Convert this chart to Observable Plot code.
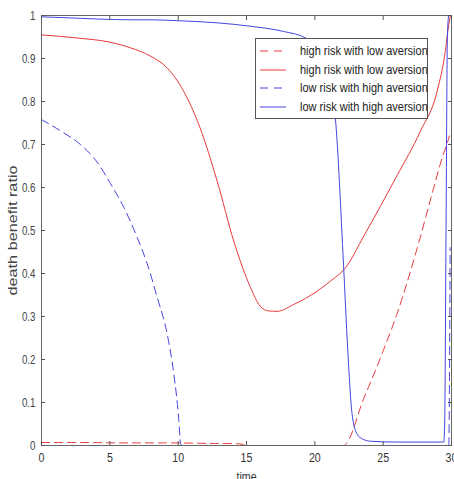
<!DOCTYPE html>
<html><head><meta charset="utf-8">
<script src="https://cdn.jsdelivr.net/npm/d3@7"></script>
<script src="https://cdn.jsdelivr.net/npm/@observablehq/plot@0.6"></script>
<style>
body{margin:0;background:#fff;}
#chart{position:relative;width:454px;height:479px;overflow:hidden;background:#fff}
#legend{position:absolute;left:255px;top:38px;width:173px;height:81px;border:1px solid #555;background:#fff;box-sizing:border-box;padding-top:3px}
#legend .row{height:18.6px;display:flex;align-items:center;font-family:"Liberation Sans",Arial,sans-serif;font-size:12.5px;color:#222;white-space:nowrap}
#legend .row span{display:inline-block;transform:scaleX(0.88);transform-origin:left center}
#legend svg{margin-left:4px;margin-right:14px;flex:none}
</style></head><body><div id="chart"></div>
<script>
// time axis ticks and ratio ticks
const xTicks = [0, 5, 10, 15, 20, 25, 30];
const yTicks = [0, 0.1, 0.2, 0.3, 0.4, 0.5, 0.6, 0.7, 0.8, 0.9, 1];
const yTickLabels = ["0", "0.1", "0.2", "0.3", "0.4", "0.5", "0.6", "0.7", "0.8", "0.9", "1"];

const legendNames = ["high risk with low aversion", "high risk with low aversion", "low risk with high aversion", "low risk with high aversion"];

// high risk with low aversion (dashed red)
const hrDashT = [0, 3, 6, 9, 12, 14.5, 15, 22.1, 23.6, 25, 26, 27.5, 28.5, 29.4, 29.7, 29.85];
const hrDashV = [0.007, 0.007, 0.006, 0.006, 0.005, 0.004, 0, 0, 0.111, 0.22, 0.305, 0.46, 0.576, 0.677, 0.704, 0.72];

// high risk with low aversion (solid red)
const hrSolidT = [0, 2.5, 5, 6.5, 8, 9.2, 10.4, 11.6, 12.85, 14.07, 15.3, 16, 16.6, 17.24, 18.46, 20.17, 21.17, 22.24, 23.58, 25, 26.02, 27.73, 28.95, 29.55, 29.8, 29.92];
const hrSolidV = [0.955, 0.948, 0.938, 0.925, 0.905, 0.878, 0.824, 0.739, 0.615, 0.475, 0.367, 0.324, 0.313, 0.312, 0.328, 0.359, 0.383, 0.413, 0.487, 0.568, 0.628, 0.731, 0.824, 0.917, 0.979, 1.0];

// low risk with high aversion (dashed blue)
const lrDashT = [0, 1.63, 2.85, 4.07, 5.05, 6.02, 7.0, 7.73, 8.46, 9.19, 9.68, 10.05, 10.17, 10.3, 29.8, 29.9];
const lrDashV = [0.758, 0.727, 0.70, 0.659, 0.609, 0.554, 0.484, 0.423, 0.345, 0.26, 0.167, 0.058, 0.005, 0, 0, 0.46];

// low risk with high aversion (solid blue)
const lrSolidT = [0, 1.6, 6.7, 8, 9.9, 12.85, 15.3, 17.7, 19.3, 20.3, 20.9, 21.2, 21.5, 22.1, 22.4, 22.73, 23.1, 23.5, 24.07, 26, 29.43, 29.5, 29.6, 29.7, 29.8, 30];
const lrSolidV = [0.997, 0.995, 0.99, 0.99, 0.988, 0.983, 0.975, 0.963, 0.948, 0.925, 0.88, 0.83, 0.762, 0.42, 0.227, 0.072, 0.026, 0.015, 0.010, 0.008, 0.008, 0.05, 0.5, 0.95, 1.0, 1.0];

const RED = "#e8383c", BLUE = "#4444e0";
const series = [
  {name: legendNames[0], t: hrDashT, v: hrDashV, color: RED, dash: "8,5"},
  {name: legendNames[1], t: hrSolidT, v: hrSolidV, color: RED, dash: null},
  {name: legendNames[2], t: lrDashT, v: lrDashV, color: BLUE, dash: "8,5"},
  {name: legendNames[3], t: lrSolidT, v: lrSolidV, color: BLUE, dash: null}
];

const font = '"Liberation Sans", Arial, sans-serif';
const svg = Plot.plot({
  width: 454, height: 479,
  marginLeft: 41, marginRight: 3, marginTop: 15, marginBottom: 34,
  style: {fontFamily: font, fontSize: "12.5px", color: "#333", background: "#fff", overflow: "visible"},
  x: {domain: [0, 30]},
  y: {domain: [0, 1]},
  marks: [
    ...series.map(s => Plot.line(s.t.map((t, i) => ({t, v: s.v[i]})), {
      x: "t", y: "v", stroke: s.color, strokeWidth: 1, strokeDasharray: s.dash, curve: "monotone-x"
    })),
    Plot.frame({stroke: "#666", strokeWidth: 1}),
    Plot.axisX({anchor: "bottom", ticks: xTicks, tickSize: -4, tickFormat: () => "", label: null, stroke: "#555"}),
    Plot.axisX({anchor: "top", ticks: xTicks, tickSize: -4, tickFormat: () => "", label: null, stroke: "#555"}),
    Plot.axisY({anchor: "left", ticks: yTicks, tickSize: -4, tickFormat: () => "", label: null, stroke: "#555"}),
    Plot.axisY({anchor: "right", ticks: yTicks, tickSize: -4, tickFormat: () => "", label: null, stroke: "#555"}),
    Plot.axisX({anchor: "bottom", ticks: xTicks, tickSize: 0, tickPadding: 8, tickFormat: d => String(d),
      label: "time", labelAnchor: "center", labelArrow: "none", labelOffset: 35, fill: "#333"}),
    Plot.axisY({anchor: "left", ticks: yTicks, tickSize: 0, tickPadding: 6, tickFormat: (d, i) => yTickLabels[i],
      label: "death benefit ratio", labelAnchor: "center", labelArrow: "none", labelOffset: 33, fill: "#444"})
  ]
});

const chart = document.getElementById("chart");
chart.appendChild(svg);

// condense text horizontally (keeps Plot's own positioning)
function fit(sel, k) {
  d3.select(svg).selectAll(sel).each(function() {
    const len = this.getComputedTextLength();
    if (len > 0) {
      this.setAttribute("textLength", (len * k).toFixed(2));
      this.setAttribute("lengthAdjust", "spacingAndGlyphs");
    }
  });
}
fit('g[aria-label="y-axis tick label"] text', 0.78);
fit('g[aria-label="x-axis tick label"] text', 0.85);
fit('g[aria-label="x-axis label"] text', 0.85);
fit('g[aria-label="y-axis label"] text', 1.3);

const legend = document.createElement("div");
legend.id = "legend";
series.forEach(s => {
  const row = document.createElement("div");
  row.className = "row";
  row.innerHTML = `<svg width="26" height="6"><line x1="0" x2="26" y1="3" y2="3" stroke="${s.color}" stroke-width="1" ${s.dash ? `stroke-dasharray="8,6"` : ""}/></svg><span></span>`;
  row.querySelector("span").textContent = s.name;
  legend.appendChild(row);
});
chart.appendChild(legend);
</script>
</body></html>
